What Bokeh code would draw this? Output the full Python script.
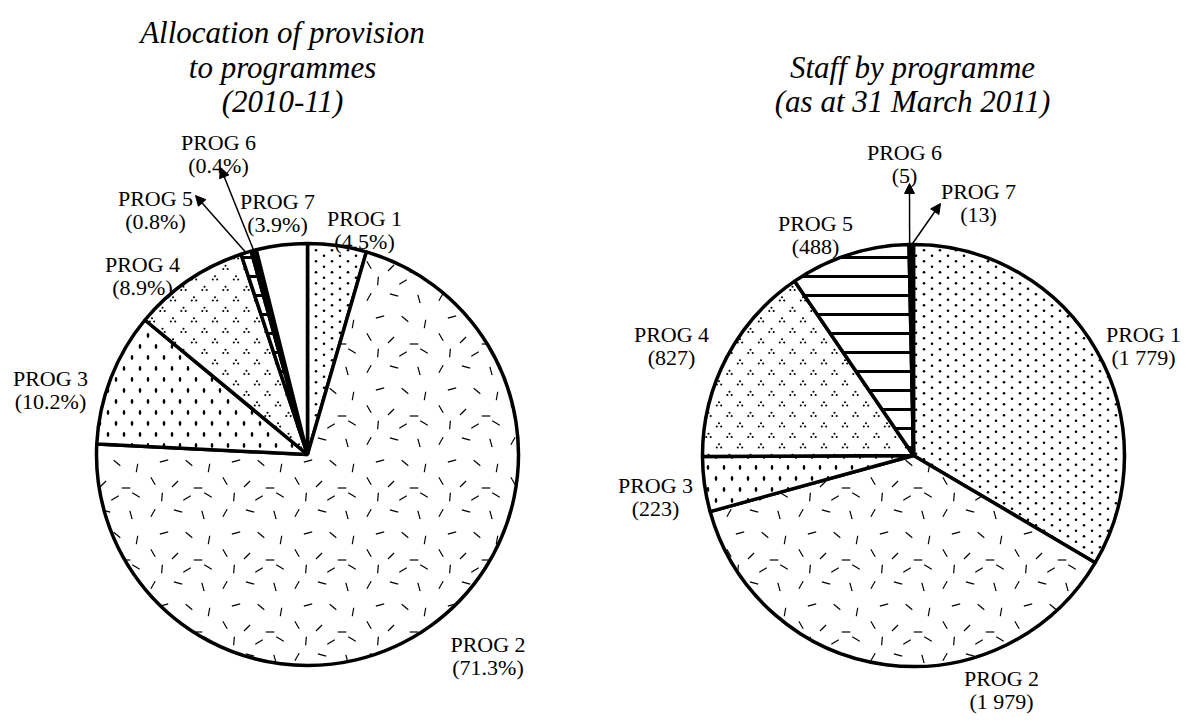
import math
from bokeh.plotting import figure
from bokeh.models import Range1d, Arrow, NormalHead, CanvasTexture
from bokeh.core.properties import value
from bokeh.embed import file_html
from bokeh.resources import INLINE

# ---------------- data ----------------
programmes = ["PROG 1", "PROG 2", "PROG 3", "PROG 4", "PROG 5", "PROG 6", "PROG 7"]
provision_pct = [4.5, 71.3, 10.2, 8.9, 0.8, 0.4, 3.9]
staff = [1779, 1979, 223, 827, 488, 5, 13]
provision_labels = [f"({v}%)" for v in provision_pct]
staff_labels = ["(" + f"{v:,}".replace(",", " ") + ")" for v in staff]
title_left = ["Allocation of provision", "to programmes", "(2010-11)"]
title_right = ["Staff by programme", "(as at 31 March 2011)"]

# ---------------- layout (screen pixels) ----------------
W, H = 1186, 718
def sy(y):
    return H - y

LEFT_C = (307, 454)
RIGHT_C = (913, 455)
R = 211
LINE2 = 23
left_label_pos = [(364, 218), (487.5, 644), (50, 378), (142, 264), (155, 198), (218, 142), (277, 201)]
right_label_pos = [(1143, 334), (1001, 678), (655, 485), (671, 334), (815, 223), (904, 152), (978, 191)]
left_arrow_tips = {4: (195, 195), 5: (220, 167)}
right_arrow_tips = {5: (909, 183), 6: (940, 203)}
FONT = value("Liberation Serif")

# ---------------- textures ----------------
DOTS = """
const c = ctx.canvas; c.width = 16; c.height = 11;
ctx.fillStyle = "black";
for (const p of [[4, 2.75], [12, 8.25]]) { ctx.beginPath(); ctx.arc(p[0], p[1], 1.3, 0, 2 * Math.PI); ctx.fill(); }
"""
OVALS = """
const c = ctx.canvas; c.width = 16; c.height = 22;
ctx.fillStyle = "black";
for (const p of [[4, 5.5], [12, 16.5]]) { ctx.beginPath(); ctx.ellipse(p[0], p[1], 1.3, 2.4, 0, 0, 2 * Math.PI); ctx.fill(); }
"""
TRIADS = """
const c = ctx.canvas; c.width = 21; c.height = 21;
ctx.fillStyle = "black";
for (const p of [[5, 5], [15.5, 15.5]]) {
  for (const d of [[0, -1.7], [-2.2, 1.5], [2.2, 1.5]]) {
    ctx.beginPath(); ctx.arc(p[0] + d[0], p[1] + d[1], 1.05, 0, 2 * Math.PI); ctx.fill();
  }
}
"""
DASHES = """
const c = ctx.canvas; c.width = 72; c.height = 72;
ctx.strokeStyle = "black"; ctx.lineWidth = 1.2;
const ds = [[9,9,120],[34,7,15],[59,11,75],[20,29,165],[45,31,40],[65,36,100],[9,49,60],[31,52,135],[54,56,0],[18,65,95],[43,66,150],[64,63,30]];
for (const d of ds) {
  const a = d[2] * Math.PI / 180; const dx = 4.3 * Math.cos(a), dy = 4.3 * Math.sin(a);
  ctx.beginPath(); ctx.moveTo(d[0] - dx, d[1] - dy); ctx.lineTo(d[0] + dx, d[1] + dy); ctx.stroke();
}
"""
extra = {
    "dots": CanvasTexture(code=DOTS),
    "ovals": CanvasTexture(code=OVALS),
    "triads": CanvasTexture(code=TRIADS),
    "dashes": CanvasTexture(code=DASHES),
}
# style per programme: (fill, hatch, scale, weight)
styles = [
    ("white", "dots", 16, 1),
    ("white", "dashes", 72, 1),
    ("white", "ovals", 16, 1),
    ("white", "triads", 21, 1),
    ("white", "horizontal_line", 19, 3),
    ("black", None, 1, 1),
    ("white", None, 1, 1),
]

p = figure(width=W, height=H, x_range=Range1d(0, W), y_range=Range1d(0, H),
           output_backend="svg", toolbar_location=None, min_border=0)
p.axis.visible = False
p.grid.visible = False
p.outline_line_color = None
p.background_fill_color = "white"


def draw_pie(values, value_labels, centre, label_pos, arrow_tips):
    cx, cy = centre
    total = float(sum(values))
    cum = 0.0
    mids = []
    for i, v in enumerate(values):
        a0 = math.pi / 2 - 2 * math.pi * cum / total
        cum += v
        a1 = math.pi / 2 - 2 * math.pi * cum / total
        mids.append((a0 + a1) / 2)
        fill, hatch, scale, weight = styles[i]
        kw = {}
        if hatch is not None:
            kw = dict(hatch_pattern=value(hatch), hatch_color="black", hatch_scale=scale,
                      hatch_weight=weight, hatch_extra=extra)
        p.wedge(x=cx, y=sy(cy), radius=R, start_angle=a0, end_angle=a1, direction="clock",
                fill_color=fill, line_color="black", line_width=3.5, **kw)
    for i, (tx, ty) in arrow_tips.items():
        xs = cx + R * math.cos(mids[i])
        ys = sy(cy) + R * math.sin(mids[i])
        p.add_layout(Arrow(end=NormalHead(size=10, fill_color="black", line_color="black", line_width=1),
                           x_start=xs, y_start=ys, x_end=tx, y_end=sy(ty),
                           line_color="black", line_width=1.5))
    p.text(x=[q[0] for q in label_pos], y=[sy(q[1]) for q in label_pos], text=programmes,
           text_font=FONT, text_font_size="22px", text_align="center",
           text_baseline="alphabetic", text_color="black")
    p.text(x=[q[0] for q in label_pos], y=[sy(q[1] + LINE2) for q in label_pos], text=value_labels,
           text_font=FONT, text_font_size="22px", text_align="center",
           text_baseline="alphabetic", text_color="black")


draw_pie(provision_pct, provision_labels, LEFT_C, left_label_pos, left_arrow_tips)
draw_pie(staff, staff_labels, RIGHT_C, right_label_pos, right_arrow_tips)

p.text(x=[282] * 3, y=[sy(32), sy(66.5), sy(101)], text=title_left, text_font=FONT,
       text_font_size="31px", text_font_style="italic", text_align="center",
       text_baseline="alphabetic", text_color="black")
p.text(x=[912] * 2, y=[sy(66.5), sy(101)], text=title_right, text_font=FONT,
       text_font_size="31px", text_font_style="italic", text_align="center",
       text_baseline="alphabetic", text_color="black")

open("out.html", "w").write(file_html(p, INLINE))
